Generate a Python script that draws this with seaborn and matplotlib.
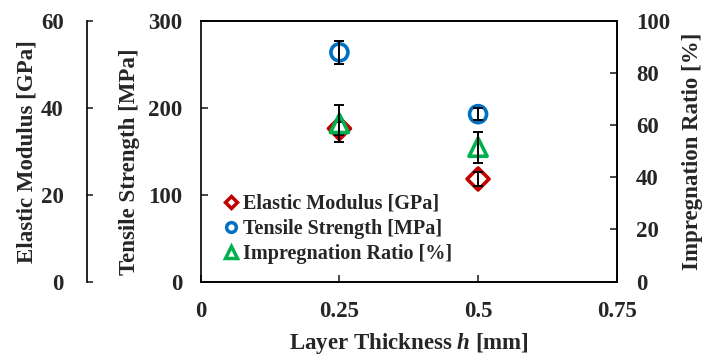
import matplotlib
matplotlib.use("Agg")
import matplotlib.pyplot as plt
from matplotlib.lines import Line2D
import seaborn as sns

# data
thickness = [0.25, 0.5]
elastic = [35.2, 23.6]
elastic_err = [1.5, 1.5]
tensile = [263.5, 192.5]
tensile_err = [13, 7]
impreg = [60.6, 51.5]
impreg_err = [7, 6]

x_ticks = [0, 0.25, 0.5, 0.75]
x_ticklabels = ["0", "0.25", "0.5", "0.75"]
tensile_ticks = [0, 100, 200, 300]
elastic_ticks = [0, 20, 40, 60]
impreg_ticks = [0, 20, 40, 60, 80, 100]

RED = "#C00000"
BLUE = "#0070C0"
GREEN = "#00B050"

sns.set_style("ticks")
plt.rcParams["font.family"] = ["Liberation Serif", "DejaVu Serif"]
plt.rcParams["font.weight"] = "bold"
plt.rcParams["axes.labelweight"] = "bold"
plt.rcParams["mathtext.fontset"] = "custom"
plt.rcParams["mathtext.it"] = "Liberation Serif:bold:italic"
plt.rcParams["mathtext.rm"] = "Liberation Serif:bold"

fig, ax = plt.subplots(figsize=(7.02, 3.55), dpi=100)
fig.subplots_adjust(left=0.286, right=0.8785, bottom=0.2065, top=0.942)
ax_e = ax.twinx()
ax_i = ax.twinx()

LW = 1.2
FS = 16.5

# tensile strength (main axis)
sns.scatterplot(x=thickness, y=tensile, ax=ax, marker="o", s=150, color=BLUE,
                facecolor="none", edgecolor=BLUE, linewidth=2.6, zorder=3)
ax.errorbar(thickness, tensile, yerr=tensile_err, fmt="none", ecolor="black",
            elinewidth=1.4, capsize=3.5, capthick=1.4, zorder=4)

# elastic modulus (outer left axis)
sns.scatterplot(x=thickness, y=elastic, ax=ax_e, marker="D", s=125, color=RED,
                facecolor="none", edgecolor=RED, linewidth=2.6, zorder=3)
ax_e.errorbar(thickness, elastic, yerr=elastic_err, fmt="none", ecolor="black",
              elinewidth=1.4, capsize=3.5, capthick=1.4, zorder=4)

# impregnation ratio (right axis)
sns.scatterplot(x=thickness, y=impreg, ax=ax_i, marker="^", s=170, color=GREEN,
                facecolor="none", edgecolor=GREEN, linewidth=2.6, zorder=3)
ax_i.errorbar(thickness, impreg, yerr=impreg_err, fmt="none", ecolor="black",
              elinewidth=1.4, capsize=3.5, capthick=1.4, zorder=4)

ax.set_xlim(0, 0.75)
ax.set_xticks(x_ticks)
ax.set_xticklabels(x_ticklabels)
ax.set_ylim(0, 300)
ax.set_yticks(tensile_ticks)
ax_e.set_ylim(0, 60)
ax_e.set_yticks(elastic_ticks)
ax_i.set_ylim(0, 100)
ax_i.set_yticks(impreg_ticks)

for a in (ax, ax_e, ax_i):
    for s in a.spines.values():
        s.set_linewidth(LW)
        s.set_color("black")

ax.tick_params(axis="x", direction="in", length=5, width=LW, labelsize=FS, pad=14, top=False)
ax.tick_params(axis="y", direction="in", length=5, width=LW, labelsize=FS, pad=13.5, right=False)

# outer left axis for elastic modulus
ax_e.spines["right"].set_visible(False)
ax_e.spines["top"].set_visible(False)
ax_e.spines["bottom"].set_visible(False)
ax_e.spines["left"].set_visible(True)
ax_e.spines["left"].set_position(("axes", -0.273))
ax_e.yaxis.set_ticks_position("left")
ax_e.yaxis.set_label_position("left")
ax_e.tick_params(axis="y", direction="in", length=4, width=LW, labelsize=FS, pad=17)

# right axis for impregnation ratio
ax_i.spines["left"].set_visible(False)
ax_i.tick_params(axis="y", direction="in", length=5, width=LW, labelsize=FS, pad=14)

ax.set_xlabel("Layer Thickness $h$ [mm]", fontsize=FS, fontweight="bold")
ax.xaxis.set_label_coords(0.5, -0.19)
ax.set_ylabel("Tensile Strength [MPa]", fontsize=FS, fontweight="bold")
ax.yaxis.set_label_coords(-0.146, 0.46)
ax_e.set_ylabel("Elastic Modulus [GPa]", fontsize=FS, fontweight="bold")
ax_e.yaxis.set_label_coords(-0.393, 0.5)
ax_i.set_ylabel("Impregnation Ratio [%]", fontsize=FS, fontweight="bold")
ax_i.yaxis.set_label_coords(1.157, 0.5)

handles = [
    Line2D([], [], ls="none", marker="D", ms=6.5, mfc="none", mec=RED, mew=2.5),
    Line2D([], [], ls="none", marker="o", ms=7, mfc="none", mec=BLUE, mew=2.5),
    Line2D([], [], ls="none", marker="^", ms=8, mfc="none", mec=GREEN, mew=2.5),
]
labels = ["Elastic Modulus [GPa]", "Tensile Strength [MPa]", "Impregnation Ratio [%]"]
ax_i.legend(handles, labels, loc="lower left", bbox_to_anchor=(0.055, 0.068),
            frameon=False, fontsize=14.5, handlelength=0.7, handletextpad=0.25,
            labelspacing=0.25, borderpad=0, borderaxespad=0)

fig.savefig("out.png", dpi=100)
plt.close(fig)
